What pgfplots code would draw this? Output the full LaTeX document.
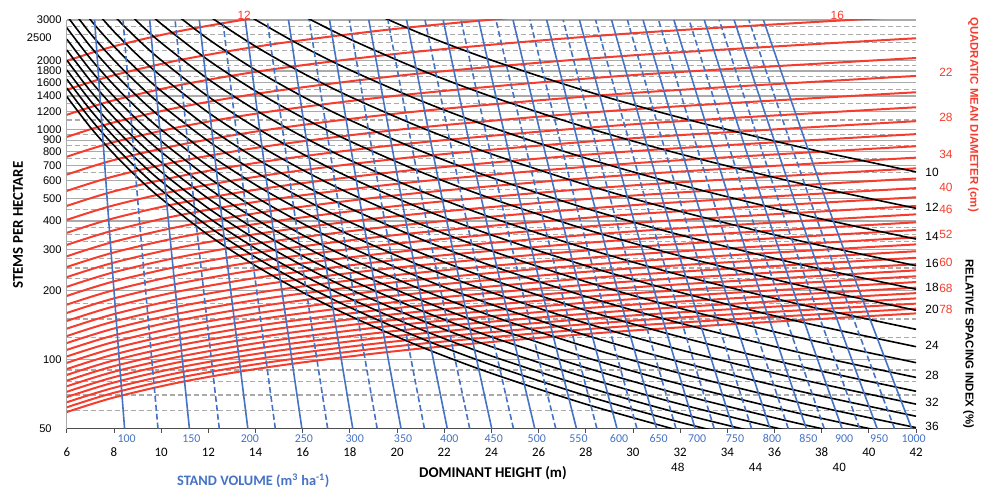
\documentclass[border=0pt]{standalone}
\usepackage{pgfplots}
\pgfplotsset{compat=1.18}
\usepackage{fontspec}
\setmainfont{Liberation Sans}
\newfontfamily\carlito{Carlito}
\definecolor{rl}{RGB}{245,60,45}
\definecolor{bl}{RGB}{68,114,196}
\definecolor{gr}{RGB}{170,170,170}
\pgfplotsset{
  redl/.style={rl, line width=2bp, smooth},
  blk/.style={black, line width=1.6bp, smooth},
  vs/.style={bl, line width=1.6bp, smooth},
  vd/.style={bl, line width=1.6bp, smooth, dash pattern=on 6bp off 3bp},
}
\begin{document}
\begin{tikzpicture}
\begin{axis}[
  at={(0,0)}, anchor=south west,
  scale only axis, width=852bp, height=410bp,
  xmin=6, xmax=42, ymin=50, ymax=3000, ymode=log,
  clip mode=individual,
  axis x line=bottom, axis y line=left, axis line style={-},
  x axis line style={black!70, line width=0.9bp},
  y axis line style={gr, line width=0.9bp},
  xtick={6,8,...,42},
  xticklabels={6,8,10,12,14,16,18,20,22,24,26,28,30,32,34,36,38,40,42},
  ytick={100,200,300,400,500,600,700,800,900,1000,1200,1400,1600,1800,2000,3000},
  yticklabels={100,200,300,400,500,600,700,800,900,1000,1200,1400,1600,1800,2000,3000},
  extra y ticks={50,2500}, extra y tick labels={50,2500},
  extra y tick style={grid=none, yticklabel style={xshift=-10bp}},
  minor ytick={60,70,80,90,125,150,175,225,250,275,325,350,375,450,550,650,750,850,950,1100,1300,1500,1700,1900,2200,2400,2600,2800},
  ymajorgrids, yminorgrids,
  major grid style={gr, line width=1.2bp},
  minor grid style={gr, line width=1.2bp, dash pattern=on 5bp off 3bp},
  tick align=outside, major tick length=4bp, minor tick length=0pt,
  xtick style={black!70, line width=0.8bp},
  ytick style={draw=none},
  xticklabel style={font=\carlito\fontsize{13}{13}\selectfont, anchor=center, yshift=-20bp},
  yticklabel style={font=\fontsize{11.2}{11.2}\selectfont, anchor=east, inner xsep=1bp},
]
% ---------------- Quadratic mean diameter (red), Dg = 12 ... 78 cm
\addplot[redl] coordinates {(6,1991) (8,2304) (11,2709) (15,3171) (21,3762) (30,4510) (42,5350)};
\addplot[redl] coordinates {(6,1490) (8,1724.5) (11,2027) (15,2373) (21,2816) (30,3375) (42,4004)};
\addplot[redl] coordinates {(6,1159.3) (8,1341.8) (11,1577.3) (15,1846.5) (21,2190.6) (30,2625.9) (42,3115.4)};
\addplot[redl] coordinates {(6,929) (8,1075.2) (11,1264) (15,1479.7) (21,1755.4) (30,2104.3) (42,2496.5)};
\addplot[redl] coordinates {(6,762.1) (8,882.1) (11,1036.9) (15,1213.9) (21,1440.1) (30,1726.2) (42,2048)};
\addplot[redl] coordinates {(6,637.1) (8,737.4) (11,866.8) (15,1014.8) (21,1203.9) (30,1443.1) (42,1712.1)};
\addplot[redl] coordinates {(6,540.9) (8,626) (11,736) (15,861.5) (21,1022.1) (30,1225.2) (42,1453.6)};
\addplot[redl] coordinates {(6,465.4) (8,538.7) (11,633.2) (15,741.3) (21,879.4) (30,1054.2) (42,1250.7)};
\addplot[redl] coordinates {(6,404.8) (8,468.5) (11,550.8) (15,644.8) (21,764.9) (30,916.9) (42,1087.8)};
\addplot[redl] coordinates {(6,355.6) (8,411.6) (11,483.8) (15,566.4) (21,671.9) (30,805.5) (42,955.6)};
\addplot[redl] coordinates {(6,315) (8,364.6) (11,428.6) (15,501.7) (21,595.2) (30,713.5) (42,846.5)};
\addplot[redl] coordinates {(6,281) (8,325.2) (11,382.3) (15,447.6) (21,531) (30,636.5) (42,755.1)};
\addplot[redl] coordinates {(6,252.4) (8,292.1) (11,343.4) (15,402) (21,476.9) (30,571.7) (42,678.3)};
\addplot[redl] coordinates {(6,228) (8,263.9) (11,310.2) (15,363.2) (21,430.8) (30,516.4) (42,612.7)};
\addplot[redl] coordinates {(6,207) (8,239.6) (11,281.6) (15,329.7) (21,391.1) (30,468.9) (42,556.3)};
\addplot[redl] coordinates {(6,188.9) (8,218.6) (11,257) (15,300.9) (21,356.9) (30,427.9) (42,507.6)};
\addplot[redl] coordinates {(6,173.1) (8,200.3) (11,235.5) (15,275.7) (21,327.1) (30,392.1) (42,465.2)};
\addplot[redl] coordinates {(6,159.2) (8,184.3) (11,216.6) (15,253.6) (21,300.8) (30,360.6) (42,427.8)};
\addplot[redl] coordinates {(6,147) (8,170.1) (11,200) (15,234.1) (21,277.8) (30,333) (42,395)};
\addplot[redl] coordinates {(6,136.1) (8,157.5) (11,185.2) (15,216.8) (21,257.2) (30,308.3) (42,365.7)};
\addplot[redl] coordinates {(6,126.4) (8,146.3) (11,172) (15,201.3) (21,238.8) (30,286.3) (42,339.7)};
\addplot[redl] coordinates {(6,117.8) (8,136.3) (11,160.3) (15,187.6) (21,222.6) (30,266.8) (42,316.6)};
\addplot[redl] coordinates {(6,110) (8,127.3) (11,149.7) (15,175.2) (21,207.9) (30,249.2) (42,295.6)};
\addplot[redl] coordinates {(6,103) (8,119.2) (11,140.1) (15,164.1) (21,194.6) (30,233.3) (42,276.8)};
\addplot[redl] coordinates {(6,96.6) (8,111.8) (11,131.4) (15,153.9) (21,182.5) (30,218.8) (42,259.6)};
\addplot[redl] coordinates {(6,90.8) (8,105.1) (11,123.5) (15,144.6) (21,171.6) (30,205.7) (42,244)};
\addplot[redl] coordinates {(6,85.6) (8,99.1) (11,116.5) (15,136.3) (21,161.7) (30,193.9) (42,230)};
\addplot[redl] coordinates {(6,80.8) (8,93.5) (11,109.9) (15,128.7) (21,152.7) (30,183) (42,217.1)};
\addplot[redl] coordinates {(6,76.4) (8,88.4) (11,103.9) (15,121.7) (21,144.4) (30,173.1) (42,205.3)};
\addplot[redl] coordinates {(6,72.3) (8,83.7) (11,98.4) (15,115.2) (21,136.6) (30,163.8) (42,194.3)};
\addplot[redl] coordinates {(6,68.6) (8,79.4) (11,93.3) (15,109.3) (21,129.6) (30,155.4) (42,184.3)};
\addplot[redl] coordinates {(6,65.1) (8,75.3) (11,88.6) (15,103.7) (21,123) (30,147.5) (42,174.9)};
\addplot[redl] coordinates {(6,61.9) (8,71.6) (11,84.2) (15,98.6) (21,117) (30,140.2) (42,166.3)};
\addplot[redl] coordinates {(6,59) (8,68.3) (11,80.3) (15,94) (21,111.5) (30,133.6) (42,158.6)};
% ---------------- Relative spacing index (black), RS = 10 ... 48 %
\addplot[blk] coordinates {(18,3564) (21,2618) (24,2004.7) (28,1472.8) (32,1127.6) (37,843.5) (42,654.6)};
\addplot[blk] coordinates {(16,3132) (18,2474.9) (21,1818.3) (24,1392.1) (28,1022.8) (32,783.1) (37,585.7) (42,454.6)};
\addplot[blk] coordinates {(13,3486) (14,3005.8) (16,2301.3) (18,1818.3) (21,1335.9) (24,1022.8) (28,751.4) (32,575.3) (37,430.3) (42,334)};
\addplot[blk] coordinates {(12,3132.3) (14,2301.3) (16,1761.9) (18,1392.1) (21,1022.8) (24,783.1) (28,575.3) (32,440.5) (37,329.5) (42,255.7)};
\addplot[blk] coordinates {(10,3563.9) (12,2474.9) (14,1818.3) (16,1392.1) (18,1100) (21,808.1) (24,618.7) (28,454.6) (32,348) (37,260.3) (42,202)};
\addplot[blk] coordinates {(9,3563.9) (10,2886.8) (12,2004.7) (14,1472.8) (16,1127.6) (18,891) (21,654.6) (24,501.2) (28,368.2) (32,281.9) (37,210.9) (42,163.6)};
\addplot[blk] coordinates {(8,3727.7) (9,2945.4) (10,2385.7) (12,1656.8) (14,1217.2) (16,931.9) (18,736.3) (21,541) (24,414.2) (28,304.3) (32,233) (37,174.3) (42,135.2)};
\addplot[blk] coordinates {(7,4091) (8,3132.3) (9,2474.9) (10,2004.7) (12,1392.1) (14,1022.8) (16,783.1) (18,618.7) (21,454.6) (24,348) (28,255.7) (32,195.8) (37,146.4) (42,113.6)};
\addplot[blk] coordinates {(7,3486) (8,2669) (9,2108.8) (10,1708.1) (12,1186.2) (14,871.5) (16,667.2) (18,527.2) (21,387.3) (24,296.6) (28,217.9) (32,166.8) (37,124.8) (42,96.8)};
\addplot[blk] coordinates {(6,4091) (7,3005.8) (8,2301.3) (9,1818.3) (10,1472.8) (12,1022.8) (14,751.4) (16,575.3) (18,454.6) (21,334) (24,255.7) (28,187.9) (32,143.8) (37,107.6) (42,83.5)};
\addplot[blk] coordinates {(6,3563.9) (7,2618.4) (8,2004.7) (9,1584) (10,1283) (12,891) (14,654.6) (16,501.2) (18,396) (21,290.9) (24,222.7) (28,163.6) (32,125.3) (37,93.7) (42,72.7)};
\addplot[blk] coordinates {(6,3132.3) (7,2301.3) (8,1761.9) (9,1392.1) (10,1127.6) (12,783.1) (14,575.3) (16,440.5) (18,348) (21,255.7) (24,195.8) (28,143.8) (32,110.1) (37,82.4) (42,63.9)};
\addplot[blk] coordinates {(6,2774.6) (7,2038.5) (8,1560.7) (9,1233.2) (10,998.9) (12,693.7) (14,509.6) (16,390.2) (18,308.3) (21,226.5) (24,173.4) (28,127.4) (32,97.5) (37,73) (42,56.6)};
\addplot[blk] coordinates {(6,2474.9) (7,1818.3) (8,1392.1) (9,1100) (10,891) (12,618.7) (14,454.6) (16,348) (18,275) (21,202) (24,154.7) (28,113.6) (32,87) (37,65.1) (42,50.5)};
\addplot[blk] coordinates {(6,2221.3) (7,1631.9) (8,1249.5) (9,987.2) (10,799.7) (12,555.3) (14,408) (16,312.4) (18,246.8) (21,181.3) (24,138.8) (28,102) (32,78.1) (37,58.4) (42,45.3)};
\addplot[blk] coordinates {(6,2004.7) (7,1472.8) (8,1127.6) (9,891) (10,721.7) (12,501.2) (14,368.2) (16,281.9) (18,222.7) (21,163.6) (24,125.3) (28,92.1) (32,70.5) (37,52.7) (42,40.9)};
\addplot[blk] coordinates {(6,1818.3) (7,1335.9) (8,1022.8) (9,808.1) (10,654.6) (12,454.6) (14,334) (16,255.7) (18,202) (21,148.4) (24,113.6) (28,83.5) (32,63.9) (37,47.8) (42,37.1)};
\addplot[blk] coordinates {(6,1656.8) (7,1217.2) (8,931.9) (9,736.3) (10,596.4) (12,414.2) (14,304.3) (16,233) (18,184.1) (21,135.2) (24,103.5) (28,76.1) (32,58.2) (37,43.6)};
\addplot[blk] coordinates {(6,1515.8) (7,1113.7) (8,852.7) (9,673.7) (10,545.7) (12,379) (14,278.4) (16,213.2) (18,168.4) (21,123.7) (24,94.7) (28,69.6) (32,53.3) (37,39.9)};
\addplot[blk] coordinates {(6,1392.1) (7,1022.8) (8,783.1) (9,618.7) (10,501.2) (12,348) (14,255.7) (16,195.8) (18,154.7) (21,113.6) (24,87) (28,63.9) (32,48.9)};
% ---------------- Stand volume (blue), V = 100 ... 1000 m3/ha
\addplot[vs] coordinates {(8.450,50) (7.779,400) (7.180,3000)};
\addplot[vd] coordinates {(9.867,50) (9.083,400) (8.384,3000)};
\addplot[vs] coordinates {(11.198,50) (10.309,400) (9.515,3000)};
\addplot[vd] coordinates {(12.464,50) (11.474,400) (10.590,3000)};
\addplot[vs] coordinates {(13.675,50) (12.589,400) (11.619,3000)};
\addplot[vd] coordinates {(14.840,50) (13.661,400) (12.609,3000)};
\addplot[vs] coordinates {(15.966,50) (14.698,400) (13.566,3000)};
\addplot[vd] coordinates {(17.059,50) (15.704,400) (14.495,3000)};
\addplot[vs] coordinates {(18.122,50) (16.683,400) (15.398,3000)};
\addplot[vd] coordinates {(19.157,50) (17.636,400) (16.278,3000)};
\addplot[vs] coordinates {(20.169,50) (18.568,400) (17.138,3000)};
\addplot[vd] coordinates {(21.160,50) (19.479,400) (17.979,3000)};
\addplot[vs] coordinates {(22.129,50) (20.371,400) (18.802,3000)};
\addplot[vd] coordinates {(23.080,50) (21.247,400) (19.611,3000)};
\addplot[vs] coordinates {(24.015,50) (22.108,400) (20.405,3000)};
\addplot[vd] coordinates {(24.934,50) (22.953,400) (21.186,3000)};
\addplot[vs] coordinates {(25.838,50) (23.786,400) (21.954,3000)};
\addplot[vd] coordinates {(26.729,50) (24.606,400) (22.711,3000)};
\addplot[vs] coordinates {(27.606,50) (25.414,400) (23.456,3000)};
\addplot[vd] coordinates {(28.472,50) (26.210,400) (24.192,3000)};
\addplot[vs] coordinates {(29.325,50) (26.996,400) (24.917,3000)};
\addplot[vd] coordinates {(30.169,50) (27.773,400) (25.634,3000)};
\addplot[vs] coordinates {(31.002,50) (28.540,400) (26.342,3000)};
\addplot[vd] coordinates {(31.825,50) (29.297,400) (27.041,3000)};
\addplot[vs] coordinates {(32.639,50) (30.047,400) (27.733,3000)};
\addplot[vd] coordinates {(33.444,50) (30.788,400) (28.417,3000)};
\addplot[vs] coordinates {(34.241,50) (31.521,400) (29.094,3000)};
\addplot[vd] coordinates {(35.031,50) (32.249,400) (29.765,3000)};
\addplot[vs] coordinates {(35.811,50) (32.967,400) (30.428,3000)};
\addplot[vd] coordinates {(36.584,50) (33.678,400) (31.085,3000)};
\addplot[vs] coordinates {(37.350,50) (34.384,400) (31.736,3000)};
\addplot[vd] coordinates {(38.109,50) (35.083,400) (32.381,3000)};
\addplot[vs] coordinates {(38.865,50) (35.778,400) (33.023,3000)};
\addplot[vd] coordinates {(39.611,50) (36.465,400) (33.656,3000)};
\addplot[vs] coordinates {(40.353,50) (37.148,400) (34.287,3000)};
\addplot[vd] coordinates {(41.088,50) (37.825,400) (34.911,3000)};
\addplot[vs] coordinates {(41.816,50) (38.495,400) (35.530,3000)};
% ---------------- volume labels
\begin{scope}[every node/.style={text=bl, font=\carlito\fontsize{12}{12}\selectfont, yshift=-10bp, xshift=2bp}]
\node at (axis cs:8.450,50) {100};
\node at (axis cs:11.198,50) {150};
\node at (axis cs:13.675,50) {200};
\node at (axis cs:15.966,50) {250};
\node at (axis cs:18.122,50) {300};
\node at (axis cs:20.169,50) {350};
\node at (axis cs:22.129,50) {400};
\node at (axis cs:24.015,50) {450};
\node at (axis cs:25.838,50) {500};
\node at (axis cs:27.606,50) {550};
\node at (axis cs:29.325,50) {600};
\node at (axis cs:31.002,50) {650};
\node at (axis cs:32.639,50) {700};
\node at (axis cs:34.241,50) {750};
\node at (axis cs:35.811,50) {800};
\node at (axis cs:37.350,50) {850};
\node at (axis cs:38.865,50) {900};
\node at (axis cs:40.353,50) {950};
\node at (axis cs:41.816,50) {1000};
\end{scope}
% ---------------- diameter labels (red)
\begin{scope}[every node/.style={text=rl, font=\fontsize{12}{12}\selectfont}]
\node at (rel axis cs:0.2089,1.0122) {12};
\node at (rel axis cs:0.9073,1.0122) {16};
\node at (rel axis cs:1.0352,0.8715) {22};
\node at (rel axis cs:1.0352,0.7627) {28};
\node at (rel axis cs:1.0352,0.6707) {34};
\node at (rel axis cs:1.0352,0.5895) {40};
\node at (rel axis cs:1.0352,0.5366) {46};
\node at (rel axis cs:1.0352,0.4756) {52};
\node at (rel axis cs:1.0352,0.4066) {60};
\node at (rel axis cs:1.0352,0.3439) {68};
\node at (rel axis cs:1.0352,0.2910) {78};
\end{scope}
% ---------------- relative spacing labels (black)
\begin{scope}[every node/.style={text=black, font=\fontsize{12}{12}\selectfont}]
\node at (rel axis cs:1.0188,0.6276) {10};
\node at (rel axis cs:1.0188,0.5407) {12};
\node at (rel axis cs:1.0188,0.4700) {14};
\node at (rel axis cs:1.0188,0.4049) {16};
\node at (rel axis cs:1.0188,0.3456) {18};
\node at (rel axis cs:1.0188,0.2910) {20};
\node at (rel axis cs:1.0188,0.2049) {24};
\node at (rel axis cs:1.0188,0.1300) {28};
\node at (rel axis cs:1.0188,0.0651) {32};
\node at (rel axis cs:1.0188,0.0056) {36};
\node at (rel axis cs:0.7195,-0.0959) {48};
\node at (rel axis cs:0.8110,-0.0959) {44};
\node at (rel axis cs:0.9096,-0.0959) {40};
\end{scope}
% ---------------- titles
\node[rotate=90, font=\carlito\bfseries\fontsize{15}{15}\selectfont] at (rel axis cs:-0.0575,0.4976) {STEMS PER HECTARE};
\node[font=\carlito\bfseries\fontsize{15}{15}\selectfont] at (rel axis cs:0.5018,-0.1098) {DOMINANT HEIGHT (m)};
\node[text=bl, font=\carlito\bfseries\fontsize{14.5}{14.5}\selectfont] at (rel axis cs:0.2195,-0.1268) {STAND VOLUME (m\textsuperscript{3} ha\textsuperscript{-1})};
\node[rotate=-90, text=rl, font=\bfseries\fontsize{11.5}{11.5}\selectfont] at (rel axis cs:1.0675,0.7683) {QUADRATIC MEAN DIAMETER (cm)};
\node[rotate=-90, font=\bfseries\fontsize{11.5}{11.5}\selectfont] at (rel axis cs:1.0618,0.2073) {RELATIVE SPACING INDEX (\%)};
\end{axis}
\path (-67bp,-60bp) rectangle (915bp,430bp);
\end{tikzpicture}
\end{document}
